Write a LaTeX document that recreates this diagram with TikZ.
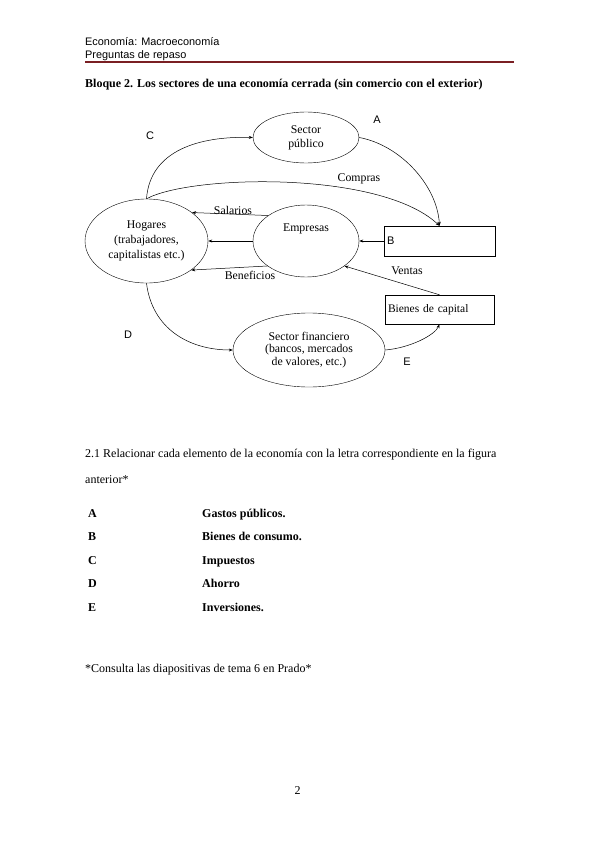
\documentclass[tikz,border=0pt]{standalone}
\usepackage{fontspec}
\setmainfont{Liberation Serif}
\newfontfamily\hdrfont{Liberation Sans}
\usetikzlibrary{arrows.meta,shapes.geometric}
\definecolor{hdrred}{RGB}{122,31,35}
\tikzset{sec/.style={draw,ellipse,inner sep=0pt,align=center,font=\fontsize{11.8}{14}\selectfont},
 caja/.style={draw,rectangle,align=left,inner sep=3pt,minimum height=30pt,font=\fontsize{11.5}{12}\selectfont},
 arr/.style={-{Stealth[length=4pt,width=3pt]},line width=.5pt},
 lab/.style={font=\fontsize{11.8}{13}\selectfont,inner sep=1pt},
 let/.style={lab,font=\hdrfont\fontsize{11}{13}\selectfont},
 txt/.style={anchor=base west,inner sep=0pt,align=left,font=\fontsize{12}{26}\selectfont},
 bold/.style={txt,font=\bfseries\fontsize{12}{14}\selectfont}}
\begin{document}
\begin{tikzpicture}[x=1pt,y=-1pt]
\useasboundingbox (0,0) rectangle (599,848);
\node[txt,font=\hdrfont\fontsize{10.9}{12}\selectfont] (h1) at (85,46) {Economía: Macroeconomía};
\node[txt,font=\hdrfont\fontsize{10.9}{12}\selectfont] (h2) at (85,58.5) {Preguntas de repaso};
\draw[hdrred,line width=2pt] (85,62)--(514,62);
\node[bold] (tit) at (85,88) {Bloque 2. Los sectores de una economía cerrada (sin comercio con el exterior)};
\node[sec,minimum width=106pt,minimum height=51pt] (pub) at (306,137.5) {Sector\\público};
\node[sec,minimum width=123pt,minimum height=84pt,font=\fontsize{11.8}{15}\selectfont] (hog) at (146.5,241) {Hogares\\(trabajadores,\\capitalistas etc.)};
\node[sec,minimum width=106pt,minimum height=72pt,text depth=26pt] (emp) at (306,241) {Empresas};
\node[sec,minimum width=152pt,minimum height=74pt,font=\fontsize{11.8}{12.5}\selectfont] (fin) at (309,350) {Sector financiero\\(bancos, mercados\\de valores, etc.)};
\node[caja,text width=105pt,font=\hdrfont\fontsize{11}{12}\selectfont] (bcons) at (439.5,241) {B};
\node[caja,text width=103pt,minimum height=29pt] (bcap) at (439.5,309.5) {Bienes de capital};
\draw[arr] (hog.north) .. controls (150,150) and (200,136) .. (pub.west);
\draw[arr] (pub.east) .. controls (400,145) and (437,185) .. (bcons.north);
\draw[arr] (hog.north) .. controls (190,175) and (380,170) .. (bcons.north);
\draw[arr] (emp.146) -- (hog.32.5);
\draw[arr] (emp.west) -- (hog.east);
\draw[arr] (emp.213) -- (hog.-33);
\draw[arr] (bcons.west) -- (emp.east);
\draw[arr] (bcap.north) -- (emp.-33);
\draw[arr] (hog.south) .. controls (152,328) and (188,350) .. (fin.west);
\draw[arr] (fin.east) .. controls (410,348) and (435,335) .. (bcap.south);
\node[let] (lC) at (150,136) {C};
\node[let] (lA) at (377,120) {A};
\node[let] (lD) at (128,335) {D};
\node[let] (lE) at (407,362) {E};
\node[lab] (lcom) at (359,179) {Compras};
\node[lab] (lsal) at (233,210) {Salarios};
\node[lab] (lben) at (250,275) {Beneficios};
\node[lab] (lven) at (407,271) {Ventas};
\node[txt,anchor=west] (preg) at (85,466) {2.1 Relacionar cada elemento de la economía con la letra correspondiente en la figura\\anterior*};
\foreach \ltr/\resp [count=\i] in {A/Gastos públicos.,B/Bienes de consumo.,C/Impuestos,D/Ahorro,E/Inversiones.}{
 \node[bold] (l\i) at (88,493.5+23.5*\i) {\ltr};
 \node[bold] (r\i) at (202,493.5+23.5*\i) {\resp};}
\node[txt] (nota) at (85,672) {*Consulta las diapositivas de tema 6 en Prado*};
\node[txt] (pag) at (294.5,794) {2};
\end{tikzpicture}
\end{document}
